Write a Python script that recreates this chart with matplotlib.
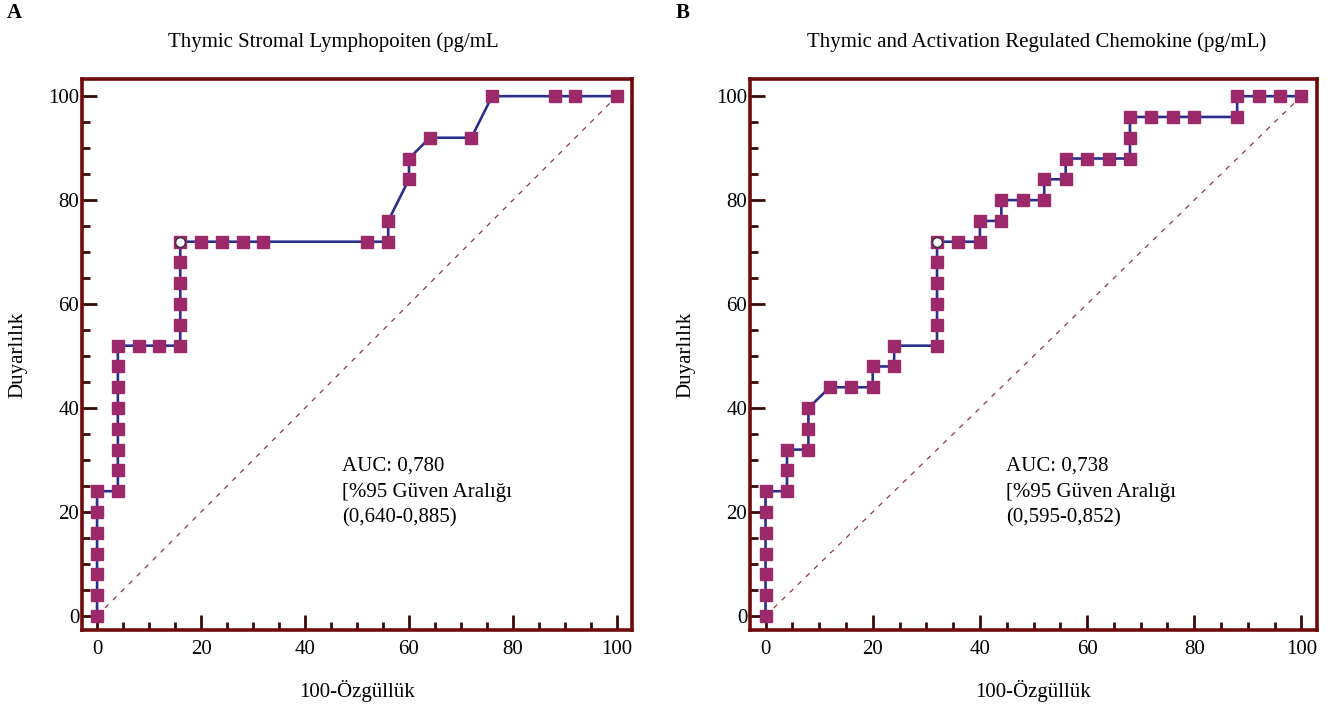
import matplotlib
matplotlib.use("Agg")
import matplotlib.pyplot as plt
from matplotlib.ticker import MultipleLocator

plt.rcParams['font.family'] = ['Liberation Serif', 'DejaVu Serif']

# Panel A: Thymic Stromal Lymphopoietin
a_x = [0, 0, 0, 0, 0, 0, 0, 4, 4, 4, 4, 4, 4, 4, 4, 8, 12, 16, 16, 16, 16, 16, 16,
       20, 24, 28, 32, 52, 56, 56, 60, 60, 64, 72, 76, 88, 92, 100]
a_y = [0, 4, 8, 12, 16, 20, 24, 24, 28, 32, 36, 40, 44, 48, 52, 52, 52, 52, 56, 60, 64, 68, 72,
       72, 72, 72, 72, 72, 72, 76, 84, 88, 92, 92, 100, 100, 100, 100]
a_opt = (16, 72)
a_title = "Thymic Stromal Lymphopoiten (pg/mL"
a_auc = ["AUC: 0,780", "[%95 Güven Aralığı", "(0,640-0,885)"]

# Panel B: Thymic and Activation Regulated Chemokine
b_x = [0, 0, 0, 0, 0, 0, 0, 4, 4, 4, 8, 8, 8, 12, 16, 20, 20, 24, 24, 32, 32, 32, 32, 32, 32,
       36, 40, 40, 44, 44, 48, 52, 52, 56, 56, 60, 64, 68, 68, 68, 72, 76, 80, 88, 88, 92, 96, 100]
b_y = [0, 4, 8, 12, 16, 20, 24, 24, 28, 32, 32, 36, 40, 44, 44, 44, 48, 48, 52, 52, 56, 60, 64, 68, 72,
       72, 72, 76, 76, 80, 80, 80, 84, 84, 88, 88, 88, 88, 92, 96, 96, 96, 96, 96, 100, 100, 100, 100]
b_opt = (32, 72)
b_title = "Thymic and Activation Regulated Chemokine (pg/mL)"
b_auc = ["AUC: 0,738", "[%95 Güven Aralığı", "(0,595-0,852)"]

xlabel = "100-Özgüllük"
ylabel = "Duyarlılık"

SPINE = "#6e0b0b"
LINE = "#2b2f8c"
MARK = "#9c2a6b"
DIAG = "#8a3a45"
FS = 15

W, H = 1340, 713
fig = plt.figure(figsize=(W / 100, H / 100), dpi=100)

def panel(rect, xs, ys, opt, title, auc, letter, letter_x, title_x, auc_x):
    ax = fig.add_axes(rect)
    ax.plot([0, 100], [0, 100], linestyle=(0, (4, 5)), color=DIAG, lw=0.9, zorder=1)
    ax.plot(xs, ys, color=LINE, lw=1.9, zorder=2)
    ax.plot(xs, ys, linestyle='none', marker='s', ms=8.3, mfc=MARK, mec=MARK, zorder=3)
    ax.plot([opt[0]], [opt[1]], linestyle='none', marker='o', ms=7, mfc='white',
            mec='#333344', mew=1.0, zorder=4)
    ax.set_xlim(-2.9, 102.9)
    ax.set_ylim(-2.7, 103.3)
    for s in ax.spines.values():
        s.set_color(SPINE)
        s.set_linewidth(2.6)
    ax.xaxis.set_major_locator(MultipleLocator(20))
    ax.xaxis.set_minor_locator(MultipleLocator(5))
    ax.yaxis.set_major_locator(MultipleLocator(20))
    ax.yaxis.set_minor_locator(MultipleLocator(5))
    ax.tick_params(axis='both', which='major', direction='in', length=11, width=2,
                   color='#3a0a0a', labelsize=FS, top=False, right=False)
    ax.tick_params(axis='both', which='minor', direction='in', length=6, width=2,
                   color='#3a0a0a', top=False, right=False)
    ax.tick_params(axis='x', which='major', pad=7)
    ax.tick_params(axis='y', which='major', pad=2)
    ax.set_xlabel(xlabel, fontsize=FS, labelpad=15)
    ax.set_ylabel(ylabel, fontsize=FS, labelpad=15)
    for i, t in enumerate(auc):
        ax.text(auc_x, 28.8 - i * 5.0, t, fontsize=FS, ha='left', va='center')
    fig.text(letter_x / W, 1 - 13 / H, letter, fontsize=FS, fontweight='bold',
             ha='left', va='center')
    fig.text(title_x / W, 1 - 42 / H, title, fontsize=FS, ha='center', va='center')
    return ax

axA = panel([82 / W, (H - 630) / H, 550 / W, 551 / H], a_x, a_y, a_opt, a_title, a_auc,
            "A", 7, 333, 47.2)
axB = panel([750 / W, (H - 630) / H, 567 / W, 551 / H], b_x, b_y, b_opt, b_title, b_auc,
            "B", 676, 1037, 44.8)

fig.savefig("out.png", dpi=100)
